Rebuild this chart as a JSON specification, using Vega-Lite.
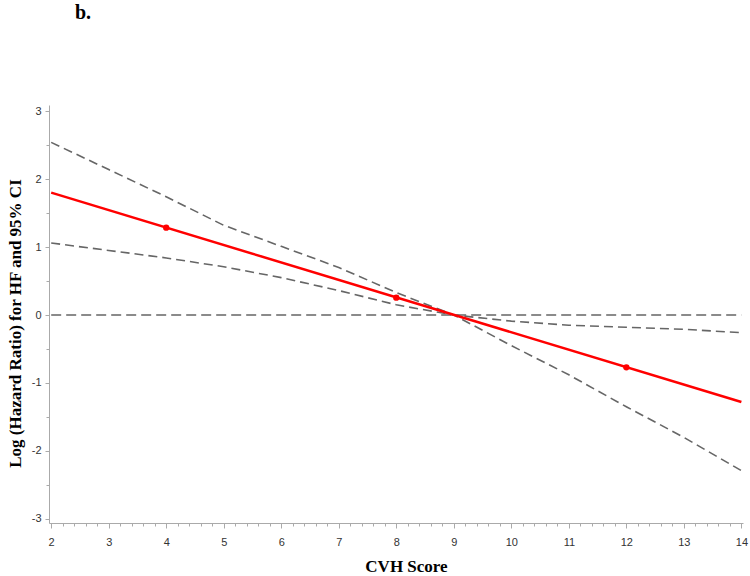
{
  "$schema": "https://vega.github.io/schema/vega-lite/v6.json",
  "autosize": {"type": "none"},
  "width": 694,
  "height": 418,
  "padding": {"left": 49, "top": 105, "right": 7, "bottom": 53},
  "background": "white",
  "title": {"text": "b.", "anchor": "start", "frame": "group", "offset": 82, "dx": 26, "font": "Liberation Serif", "fontSize": 20, "fontWeight": "bold", "color": "black"},
  "config": {"view": {"stroke": null}},
  "datasets": {
    "curves": [
      {"series": "upper", "x": 2, "y": 2.54}, {"series": "upper", "x": 3, "y": 2.14}, {"series": "upper", "x": 4, "y": 1.74}, {"series": "upper", "x": 5, "y": 1.32}, {"series": "upper", "x": 6, "y": 1.01}, {"series": "upper", "x": 7, "y": 0.70}, {"series": "upper", "x": 8, "y": 0.33}, {"series": "upper", "x": 9, "y": 0.0}, {"series": "upper", "x": 10, "y": -0.45}, {"series": "upper", "x": 11, "y": -0.88}, {"series": "upper", "x": 12, "y": -1.35}, {"series": "upper", "x": 13, "y": -1.80}, {"series": "upper", "x": 14, "y": -2.29},
      {"series": "lower", "x": 2, "y": 1.06}, {"series": "lower", "x": 3, "y": 0.95}, {"series": "lower", "x": 4, "y": 0.84}, {"series": "lower", "x": 5, "y": 0.71}, {"series": "lower", "x": 6, "y": 0.55}, {"series": "lower", "x": 7, "y": 0.36}, {"series": "lower", "x": 8, "y": 0.15}, {"series": "lower", "x": 9, "y": 0.0}, {"series": "lower", "x": 10, "y": -0.09}, {"series": "lower", "x": 11, "y": -0.15}, {"series": "lower", "x": 12, "y": -0.18}, {"series": "lower", "x": 13, "y": -0.21}, {"series": "lower", "x": 14, "y": -0.26},
      {"series": "ref", "x": 2, "y": 0}, {"series": "ref", "x": 14, "y": 0}
    ],
    "est": [
      {"x": 2, "y": 1.80}, {"x": 14, "y": -1.28}
    ],
    "pts": [
      {"x": 4, "y": 1.285}, {"x": 8, "y": 0.255}, {"x": 12, "y": -0.77}
    ]
  },
  "layer": [
    {
      "data": {"name": "pts"},
      "mark": {"type": "point", "opacity": 0},
      "encoding": {
        "x": {"field": "x", "type": "quantitative", "scale": {"domain": [1.962, 14.028], "nice": false, "zero": false},
          "axis": {"orient": "bottom", "values": [2.2,2.4,2.6,2.8,3.2,3.4,3.6,3.8,4.2,4.4,4.6,4.8,5.2,5.4,5.6,5.8,6.2,6.4,6.6,6.8,7.2,7.4,7.6,7.8,8.2,8.4,8.6,8.8,9.2,9.4,9.6,9.8,10.2,10.4,10.6,10.8,11.2,11.4,11.6,11.8,12.2,12.4,12.6,12.8,13.2,13.4,13.6,13.8], "labels": false, "tickSize": 3, "tickColor": "#aaaaaa", "domain": false, "grid": false, "title": null}},
        "y": {"field": "y", "type": "quantitative", "scale": {"domain": [-3.06, 3.09], "nice": false, "zero": false},
          "axis": {"orient": "left", "values": [-2.5, -1.5, -0.5, 0.5, 1.5, 2.5], "labels": false, "tickSize": 3, "tickColor": "#aaaaaa", "domain": false, "grid": false, "title": null}}
      }
    },
    {
      "data": {"name": "curves"},
      "transform": [{"filter": "datum.series !== 'ref'"}],
      "mark": {"type": "line", "color": "#666666", "strokeWidth": 1.6, "strokeDash": [9, 5]},
      "encoding": {
        "x": {"field": "x", "type": "quantitative",
          "axis": {"orient": "bottom", "values": [2,3,4,5,6,7,8,9,10,11,12,13,14], "tickSize": 5, "tickColor": "#aaaaaa", "domainColor": "#aaaaaa", "grid": false, "labelFont": "Liberation Sans", "labelFontSize": 11, "labelColor": "#333333", "labelPadding": 8, "labelBaseline": "top", "labelExpr": "'' + datum.value",
            "title": "CVH Score", "titleFont": "Liberation Serif", "titleFontSize": 17, "titleFontWeight": "bold", "titleColor": "black", "titleX": 357, "titleY": 48, "titleBaseline": "alphabetic", "titleAlign": "center"}},
        "y": {"field": "y", "type": "quantitative",
          "axis": {"orient": "left", "values": [-3,-2,-1,0,1,2,3], "tickSize": 4, "tickColor": "#aaaaaa", "domainColor": "#aaaaaa", "grid": false, "labelFont": "Liberation Sans", "labelFontSize": 11, "labelColor": "#333333", "labelPadding": 4, "labelExpr": "'' + datum.value",
            "title": "Log (Hazard Ratio) for HF and 95% CI", "titleFont": "Liberation Serif", "titleFontSize": 17, "titleFontWeight": "bold", "titleColor": "black", "titleAngle": 270, "titleX": -29, "titleY": 218, "titleAlign": "center", "titleBaseline": "alphabetic"}},
        "detail": {"field": "series", "type": "nominal"}
      }
    },
    {
      "data": {"name": "curves"},
      "transform": [{"filter": "datum.series === 'ref'"}],
      "mark": {"type": "line", "color": "#666666", "strokeWidth": 1.6, "strokeDash": [10, 5]},
      "encoding": {
        "x": {"field": "x", "type": "quantitative", "axis": null},
        "y": {"field": "y", "type": "quantitative", "axis": null}
      }
    },
    {
      "data": {"name": "est"},
      "mark": {"type": "line", "color": "#ff0000", "strokeWidth": 2.5},
      "encoding": {
        "x": {"field": "x", "type": "quantitative", "axis": null},
        "y": {"field": "y", "type": "quantitative", "axis": null}
      }
    },
    {
      "data": {"name": "pts"},
      "mark": {"type": "point", "filled": true, "color": "#ff0000", "opacity": 1, "size": 40},
      "encoding": {
        "x": {"field": "x", "type": "quantitative", "axis": null},
        "y": {"field": "y", "type": "quantitative", "axis": null}
      }
    }
  ],
  "resolve": {"axis": {"x": "independent", "y": "independent"}}
}
